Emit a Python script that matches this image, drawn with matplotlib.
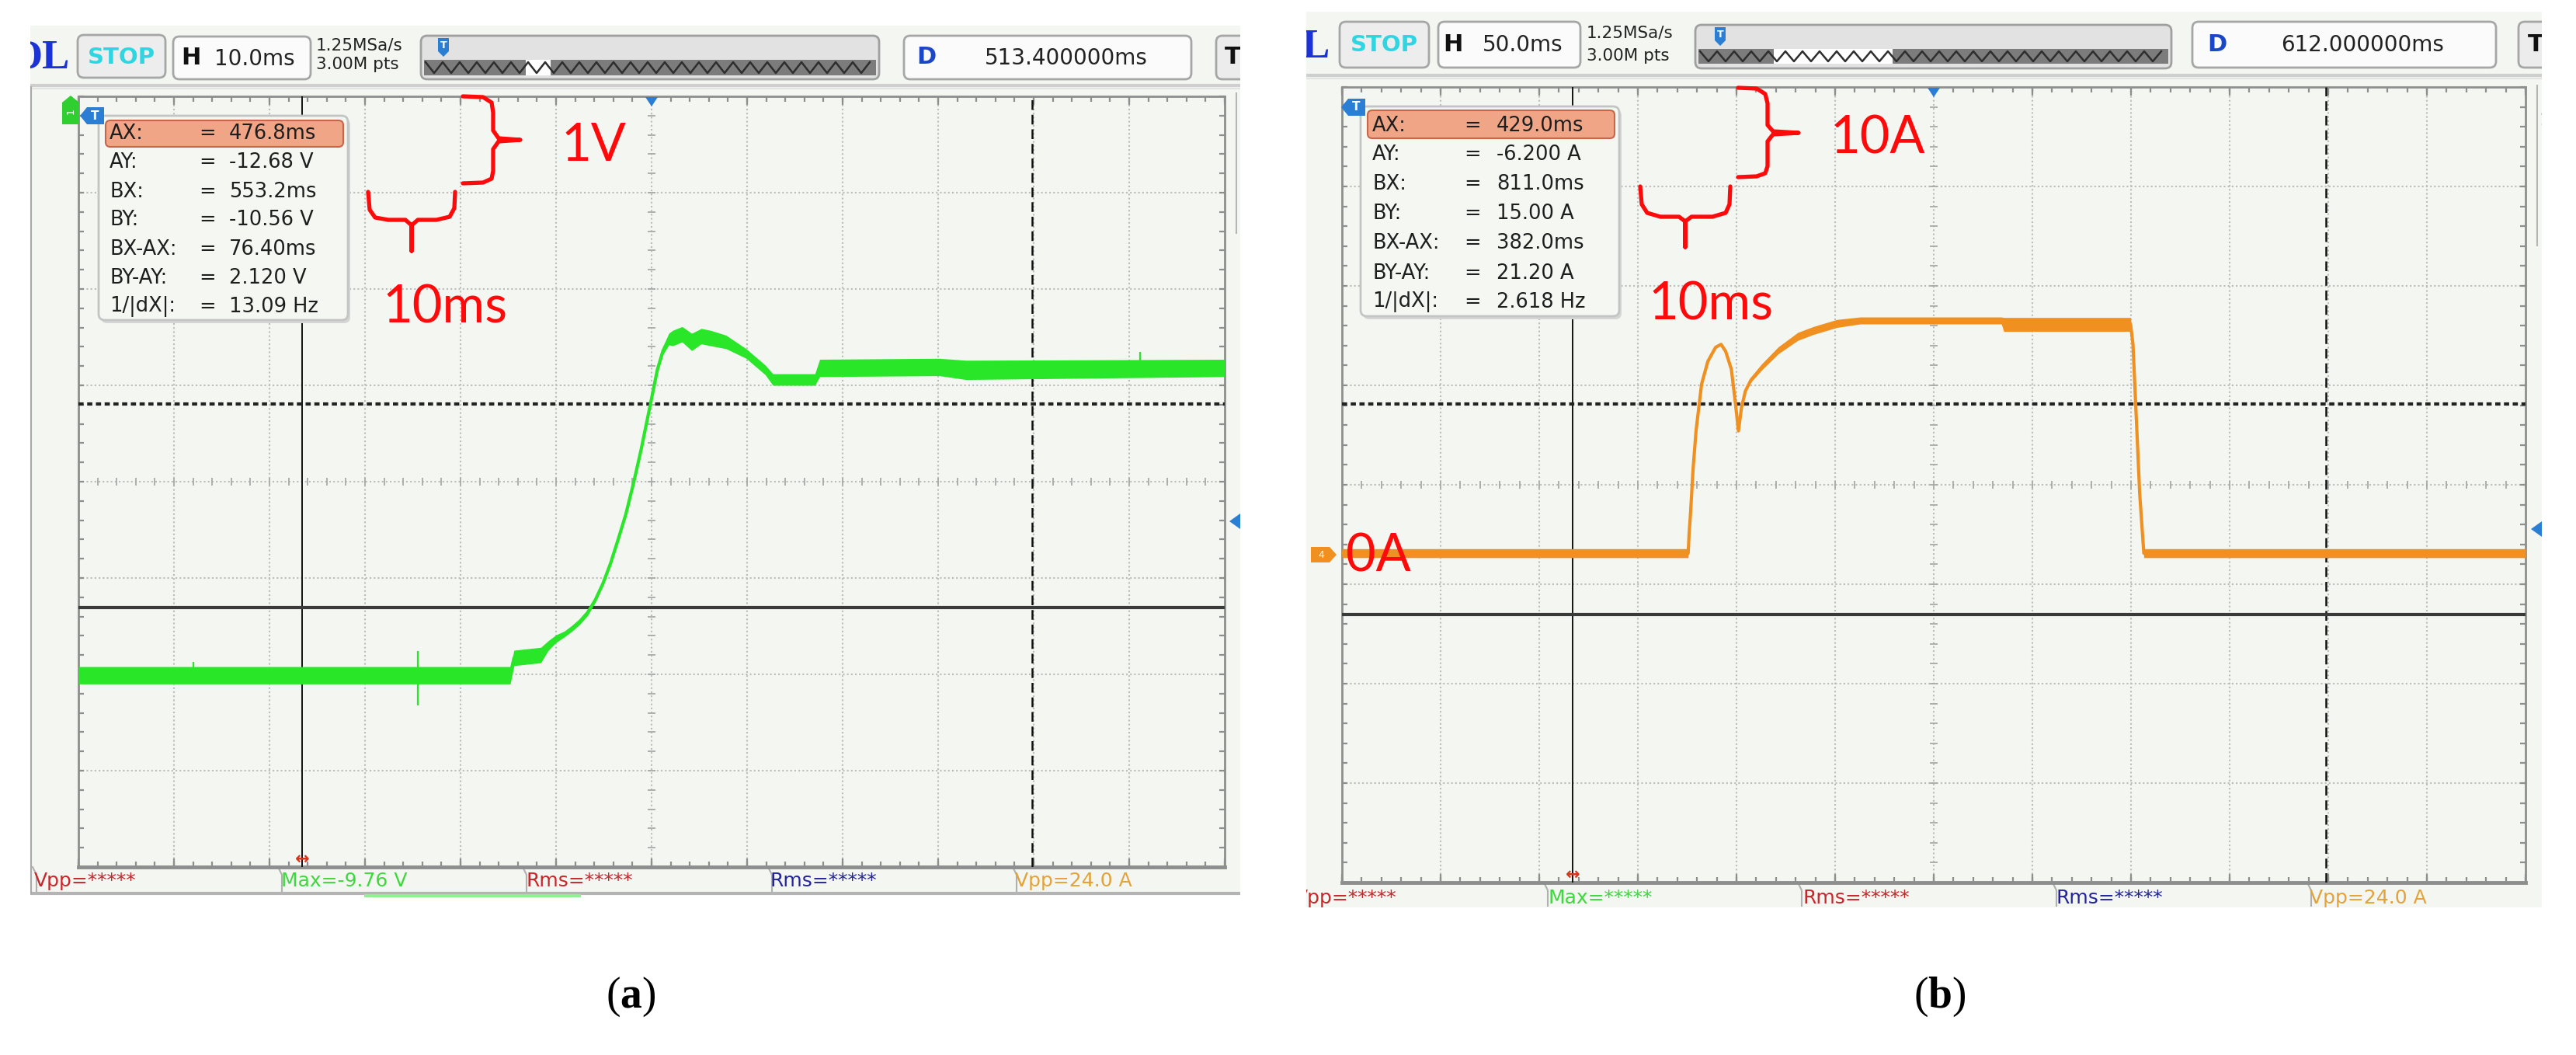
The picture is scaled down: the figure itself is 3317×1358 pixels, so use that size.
import numpy as np
import matplotlib.pyplot as plt
from matplotlib.patches import FancyBboxPatch, Rectangle, Polygon

plt.rcParams['font.family'] = 'DejaVu Sans'
plt.rcParams['mathtext.fontset'] = 'custom'
plt.rcParams['mathtext.rm'] = 'Liberation Serif'
plt.rcParams['mathtext.bf'] = 'Liberation Serif:bold'

# ---------------- values ----------------
# (a) CH1 voltage: time in ms, volts, half width of the noise band
t_a = [453.4, 498.6, 499.0, 501.8, 502.6, 503.4, 504.3, 505.1, 505.9, 506.7,
       507.5, 508.3, 509.1, 509.9, 510.7, 511.5, 512.3, 513.0, 513.6, 514.0,
       514.6, 515.2, 515.6, 516.6, 517.6, 518.6, 519.6, 521.2, 523.3, 525.3,
       526.1, 530.5, 531.0, 543.5, 546.3, 573.4]
v_a = [-13.38, -13.38, -13.20, -13.17, -13.07, -13.00, -12.95, -12.89, -12.82, -12.73,
       -12.60, -12.43, -12.22, -11.97, -11.71, -11.39, -11.04, -10.70, -10.41, -10.21,
       -10.01, -9.89, -9.88, -9.84, -9.92, -9.86, -9.88, -9.92, -10.04, -10.21,
       -10.31, -10.31, -10.19, -10.18, -10.21, -10.19]
w_a = [0.09, 0.09, 0.08, 0.08, 0.05, 0.04, 0.03, 0.03, 0.03, 0.03,
       0.02, 0.02, 0.02, 0.02, 0.02, 0.02, 0.02, 0.02, 0.02, 0.03,
       0.04, 0.06, 0.08, 0.08, 0.09, 0.08, 0.08, 0.07, 0.05, 0.05,
       0.06, 0.06, 0.09, 0.09, 0.10, 0.09]
spike_t_a = [465.4, 488.9, 564.5]
spike_lo_a = [-13.42, -13.69, -10.22]
spike_hi_a = [-13.24, -13.13, -10.02]

# (b) CH4 current: time in ms, amps, half width of the noise band
t_b = [312.0, 487.5, 488.0, 488.7, 490.0, 491.5, 494.3, 497.5, 501.4, 504.2,
       506.5, 509.4, 511.5, 513.0, 514.5, 516.5, 519.3, 525.2, 533.2, 543.1,
       551.1, 562.9, 574.8, 646.3, 647.5, 711.8, 713.0, 714.6, 716.4, 718.5, 912.0]
i_b = [0.0, 0.0, 2.0, 4.0, 8.5, 12.3, 17.0, 19.3, 20.7, 21.0,
       20.3, 18.5, 15.0, 12.3, 14.6, 16.3, 17.4, 18.8, 20.4, 21.8,
       22.4, 23.1, 23.4, 23.4, 23.0, 23.0, 21.0, 14.0, 6.0, 0.0, 0.0]
w_b = [0.45, 0.45, 0.05, 0.05, 0.05, 0.05, 0.05, 0.05, 0.05, 0.05,
       0.05, 0.05, 0.05, 0.05, 0.05, 0.10, 0.20, 0.30, 0.35, 0.40,
       0.40, 0.40, 0.35, 0.35, 0.70, 0.70, 0.10, 0.05, 0.05, 0.45, 0.45]

# screen settings: centre time (D), time/div, centre level, level/div
h_label = ['10.0ms', '50.0ms']
d_label = ['513.400000ms', '612.000000ms']
centre_t = [513.4, 612.0]
time_div = [10.0, 50.0]
centre_y = [-11.37, 6.88]
level_div = [1.0, 10.0]

# cursors: AX, AY, BX, BY
cursor_a = [476.8, -12.68, 553.2, -10.56]
cursor_b = [429.0, -6.2, 811.0, 15.0]

readout_labels = ['AX:', 'AY:', 'BX:', 'BY:', 'BX-AX:', 'BY-AY:', '1/|dX|:']
readout_a = ['476.8ms', '-12.68 V', '553.2ms', '-10.56 V', '76.40ms', '2.120 V', '13.09 Hz']
readout_b = ['429.0ms', '-6.200 A', '811.0ms', '15.00 A', '382.0ms', '21.20 A', '2.618 Hz']

meas_a = ['Vpp=*****', 'Max=-9.76 V', 'Rms=*****', 'Rms=*****', 'Vpp=24.0 A']
meas_b = ['Vpp=*****', 'Max=*****', 'Rms=*****', 'Rms=*****', 'Vpp=24.0 A']
meas_colors = ['#c9262b', '#3ed83e', '#c9262b', '#24249c', '#e3a23a']

# ---------------- layout (pixels of the 3317x1358 picture) ----------------
W, H = 3317, 1358
SCREEN = '#f3f6f1'
FRAME = '#8e8e8e'
GRID = '#bcbcbc'

PA = dict(panel=(39, 33, 1597, 1152), logo=(90, 74),
          stop=(100, 45, 213, 100), hbox=(223, 47, 400, 102), h_x=233, h_val=328,
          rate=(407, 58, 83), slider=(542, 46, 1132, 102), band=(77, 97),
          slider_t=571, white=(677, 709),
          dbox=(1164, 46, 1534, 102), d_x=1180, d_val=1373,
          tbox=(1566, 46, 1630, 102), t_x=1577, sep=110,
          grid=(101, 124, 1577, 1116),
          bar=(1116, 1150), bar_sep=[42, 358, 673, 989, 1304],
          meas_x=[44, 362, 677, 992, 1307], meas_y=1134, bar_line=True,
          box=(127, 149, 448, 412), hl=(136, 155, 442, 189), cols=(141, 267, 295),
          rows=[172, 209, 247, 283, 321, 358, 395],
          scroll=(1592, 120, 300), trig_y=671)
PB = dict(panel=(1682, 15, 3273, 1168), logo=(1713, 60),
          stop=(1725, 28, 1840, 87), hbox=(1852, 28, 2035, 87), h_x=1858, h_val=1961,
          rate=(2043, 43, 72), slider=(2183, 32, 2796, 88), band=(63, 82),
          slider_t=2215, white=(2284, 2437),
          dbox=(2823, 28, 3214, 87), d_x=2842, d_val=3042,
          tbox=(3243, 28, 3300, 87), t_x=3255, sep=97,
          grid=(1728, 112, 3252, 1136),
          bar=(1136, 1168), bar_sep=[1988, 2315, 2643, 2971],
          meas_x=[1667, 1994, 2321, 2648, 2974], meas_y=1156, bar_line=False,
          box=(1752, 137, 2085, 407), hl=(1761, 142, 2079, 178), cols=(1767, 1896, 1927),
          rows=[162, 199, 237, 275, 313, 352, 389],
          scroll=(3267, 110, 316), trig_y=681)

fig = plt.figure(figsize=(W / 100, H / 100), dpi=100)
fig.patch.set_facecolor('white')
bg = fig.add_axes([0, 0, 1, 1], zorder=0)
fg = fig.add_axes([0, 0, 1, 1], zorder=2)
for a in (bg, fg):
    a.set_xlim(0, W)
    a.set_ylim(H, 0)
    a.axis('off')


def px_rect(x0, y0, x1, y1):
    return [x0 / W, 1 - y1 / H, (x1 - x0) / W, (y1 - y0) / H]


def rbox(ax, box, fc, ec, lw=1.5, r=6, z=2):
    x0, y0, x1, y1 = box
    ax.add_patch(FancyBboxPatch((x0, y0), x1 - x0, y1 - y0,
                                boxstyle=f'round,pad=0,rounding_size={r}',
                                fc=fc, ec=ec, lw=lw, zorder=z))


def zigzag(ax, x0, x1, ya, yb, step, color, z):
    xs = np.arange(x0, x1, step / 2)
    ys = np.where(np.arange(len(xs)) % 2 == 0, ya, yb)
    ax.plot(xs, ys, color=color, lw=1.8, zorder=z)


def scope(k, g, t, y, w, color, cur, readout, meas):
    x0, y0, x1, y1 = g['panel']
    bg.add_patch(Rectangle((x0, y0), x1 - x0, y1 - y0, fc=SCREEN, ec='none', zorder=1))

    # ---- top status bar
    bg.text(*g['logo'], 'OL', ha='right', va='center', fontsize=38, fontweight='bold',
            family='Liberation Serif', color='#1b33d6', zorder=3)
    rbox(bg, g['stop'], '#ededed', '#a6a6a6', lw=2, r=8)
    s = g['stop']
    bg.text((s[0] + s[2]) / 2, (s[1] + s[3]) / 2 + 1, 'STOP', ha='center', va='center',
            fontsize=21, fontweight='bold', color='#2fd6e2', zorder=3)
    hb = g['hbox']
    rbox(bg, hb, '#fbfbfb', '#a6a6a6', lw=2, r=8)
    bg.text(g['h_x'], (hb[1] + hb[3]) / 2, 'H', ha='left', va='center', fontsize=22,
            fontweight='bold', color='#111', zorder=3)
    bg.text(g['h_val'], (hb[1] + hb[3]) / 2 + 1, h_label[k], ha='center', va='center',
            fontsize=20, color='#222', zorder=3)
    rx, ry1, ry2 = g['rate']
    bg.text(rx, ry1, '1.25MSa/s', ha='left', va='center', fontsize=15.5, color='#222', zorder=3)
    bg.text(rx, ry2, '3.00M pts', ha='left', va='center', fontsize=15.5, color='#222', zorder=3)
    sl = g['slider']
    rbox(bg, sl, '#e2e2e2', '#a0a0a0', lw=2, r=8)
    ba, bb = g['band']
    bg.add_patch(Rectangle((sl[0] + 4, ba), sl[2] - sl[0] - 8, bb - ba, fc='#7c7c7c', ec='none', zorder=3))
    wa, wb = g['white']
    bg.add_patch(Rectangle((wa, ba), wb - wa, bb - ba, fc='white', ec='none', zorder=3))
    zigzag(bg, sl[0] + 6, sl[2] - 6, ba + 3, bb - 3, 22, '#2e2e2e', 4)
    st = g['slider_t']
    bg.add_patch(Polygon([(st - 7, sl[1] + 3), (st + 7, sl[1] + 3), (st + 7, sl[1] + 20),
                          (st, sl[1] + 27), (st - 7, sl[1] + 20)], closed=True,
                         fc='#2a7fd4', ec='none', zorder=5))
    bg.text(st, sl[1] + 12, 'T', ha='center', va='center', fontsize=9, fontweight='bold',
            color='white', zorder=6)
    db = g['dbox']
    rbox(bg, db, '#fbfbfb', '#a6a6a6', lw=2, r=8)
    bg.text(g['d_x'], (db[1] + db[3]) / 2, 'D', ha='left', va='center', fontsize=22,
            fontweight='bold', color='#1a47c8', zorder=3)
    bg.text(g['d_val'], (db[1] + db[3]) / 2 + 1, d_label[k], ha='center', va='center',
            fontsize=20, color='#222', zorder=3)
    tb = g['tbox']
    rbox(bg, tb, '#ececec', '#a6a6a6', lw=2, r=8)
    bg.text(g['t_x'], (tb[1] + tb[3]) / 2, 'T', ha='left', va='center', fontsize=22,
            fontweight='bold', color='#111', zorder=3)
    bg.plot([x0, x1], [g['sep'], g['sep']], color='#cfcfcf', lw=3, zorder=3)
    bg.plot([x0, x1], [g['sep'] + 4, g['sep'] + 4], color='#e3e3e3', lw=1.5, zorder=3)

    # small scroll strip at the right edge
    sx, sy0, sy1 = g['scroll']
    bg.plot([sx, sx], [sy0, sy1], color='#b5b5b5', lw=1.5, zorder=3)
    bg.text(sx + 3, sy0 + 45, '1', ha='left', va='center', fontsize=16, color='#999', zorder=3)

    # ---- bottom measurement bar
    b0, b1 = g['bar']
    for xs in g['bar_sep']:
        bg.plot([xs, xs + 5, xs + 5], [b0, b0 + 10, b1 - 2], color='#b0b0b0', lw=1.5, zorder=3)
    if g['bar_line']:
        bg.plot([x0, x1], [b1, b1], color='#b4b4b4', lw=3, zorder=3)
    for xm, txt, c in zip(g['meas_x'], meas, meas_colors):
        bg.text(xm, g['meas_y'], txt, ha='left', va='center', fontsize=18, color=c, zorder=3)

    # ---- graticule and traces
    gx0, gy0, gx1, gy1 = g['grid']
    xlim = (centre_t[k] - 6 * time_div[k], centre_t[k] + 6 * time_div[k])
    ylim = (centre_y[k] - 4 * level_div[k], centre_y[k] + 4 * level_div[k])
    ax = fig.add_axes(px_rect(gx0, gy0, gx1, gy1), zorder=1)
    ax.set_xlim(xlim)
    ax.set_ylim(ylim)
    ax.patch.set_alpha(0)
    ax.set_xticks([])
    ax.set_yticks([])
    for sp in ax.spines.values():
        sp.set_color(FRAME)
        sp.set_linewidth(2)
    ax.spines['bottom'].set_linewidth(3.5)
    xd = np.linspace(*xlim, 13)
    yd = np.linspace(*ylim, 9)
    for xv in xd[1:-1]:
        ax.axvline(xv, color=GRID, lw=1.5, ls=(0, (1, 1.5)), zorder=1)
    for yv in yd[1:-1]:
        ax.axhline(yv, color=GRID, lw=1.5, ls=(0, (1, 1.5)), zorder=1)
    xm = np.linspace(*xlim, 61)
    ym = np.linspace(*ylim, 41)
    xc, yc = sum(xlim) / 2, sum(ylim) / 2
    ax.plot(xm, np.full_like(xm, yc), ls='none', marker='|', ms=7, mew=1.3, color='#a9a9a9', zorder=1)
    ax.plot(np.full_like(ym, xc), ym, ls='none', marker='_', ms=7, mew=1.3, color='#a9a9a9', zorder=1)
    tk = dict(ls='none', mew=1.6, color=FRAME, clip_on=False, zorder=2)
    ax.plot(xm, np.full_like(xm, ylim[1]), marker=3, ms=5, **tk)
    ax.plot(xm, np.full_like(xm, ylim[0]), marker=2, ms=5, **tk)
    ax.plot(np.full_like(ym, xlim[0]), ym, marker=1, ms=5, **tk)
    ax.plot(np.full_like(ym, xlim[1]), ym, marker=0, ms=5, **tk)
    ax.plot(xd, np.full_like(xd, ylim[1]), marker=3, ms=8, **tk)
    ax.plot(xd, np.full_like(xd, ylim[0]), marker=2, ms=8, **tk)

    # cursors
    ax.axvline(cur[0], color='#111', lw=1.4, zorder=4)
    ax.axvline(cur[2], color='#111', lw=1.8, ls=(0, (5, 2.5)), zorder=4)
    ax.axhline(cur[1], color='#3a3a3a', lw=3, zorder=4)
    ax.axhline(cur[3], color='#222', lw=3, ls=(0, (1.6, 1.1)), zorder=4)
    ax.text(cur[0], ylim[0], '\u2194', ha='center', va='bottom', fontsize=16,
            color='#d0391a', fontweight='bold', clip_on=False, zorder=5)

    t, y, w = np.array(t), np.array(y), np.array(w)
    ax.fill_between(t, y - w, y + w, color=color, lw=0, zorder=5)
    ax.plot(t, y, color=color, lw=3, zorder=5)

    # trigger markers and readout box (pixel space, above traces)
    cxp = (gx0 + gx1) / 2
    fg.add_patch(Polygon([(cxp - 8, gy0 + 1), (cxp + 8, gy0 + 1), (cxp, gy0 + 13)], closed=True,
                         fc='#2a7fd4', ec='none', zorder=3))
    fg.add_patch(Polygon([(x1, g['trig_y'] - 10), (x1, g['trig_y'] + 10), (x1 - 14, g['trig_y'])],
                         closed=True, fc='#2a7fd4', ec='none', zorder=3))
    bx = g['box']
    rbox(fg, (bx[0] + 3, bx[1] + 4, bx[2] + 3, bx[3] + 4), '#d5d5d5', 'none', lw=0, r=8, z=2)
    rbox(fg, bx, '#f5f7f3', '#c4c4c4', lw=2, r=8, z=3)
    rbox(fg, g['hl'], '#f0a587', '#c9664a', lw=1.5, r=6, z=4)
    lx, ex, vx = g['cols']
    for ry, lab, val in zip(g['rows'], readout_labels, readout):
        fg.text(lx, ry, lab, ha='left', va='center', fontsize=18.5, color='#1e1e1e', zorder=5)
        fg.text(ex, ry, '=', ha='center', va='center', fontsize=18.5, color='#1e1e1e', zorder=5)
        fg.text(vx, ry, val, ha='left', va='center', fontsize=18.5, color='#1e1e1e', zorder=5)
    return ax


ax_a = scope(0, PA, t_a, v_a, w_a, '#29e629', cursor_a, readout_a, meas_a)
ax_a.vlines(spike_t_a, spike_lo_a, spike_hi_a, color='#29e629', lw=1.6, zorder=5)
ax_b = scope(1, PB, t_b, i_b, w_b, '#f09020', cursor_b, readout_b, meas_b)

# white margins between/around the two screenshots
for mx0, mx1 in [(0, PA['panel'][0]), (PA['panel'][2], PB['panel'][0]), (PB['panel'][2], W)]:
    bg.add_patch(Rectangle((mx0, 0), mx1 - mx0, H, fc='white', ec='none', zorder=20))
bg.plot([40, 40], [112, 1150], color='#a9a9a9', lw=1.5, zorder=21)

# green underline under the Max reading
bg.plot([471, 746], [1153, 1153], color='#8ff08f', lw=3, zorder=21)

# channel markers
fg.add_patch(Polygon([(80, 160), (80, 132), (91, 123), (102, 132), (102, 160)], closed=True,
                     fc='#2fcf2f', ec='none', zorder=3))
fg.text(91, 143, '1', ha='center', va='center', fontsize=9, color='white', rotation=90, zorder=4)
for tx, ty in [(103, 149), (1727, 138)]:
    fg.add_patch(Polygon([(tx, ty), (tx + 9, ty - 11), (tx + 31, ty - 11), (tx + 31, ty + 11),
                          (tx + 9, ty + 11)], closed=True, fc='#2a7fd4', ec='none', zorder=3))
    fg.text(tx + 19, ty, 'T', ha='center', va='center', fontsize=11, fontweight='bold',
            color='white', zorder=4)
fg.add_patch(Polygon([(1688, 704), (1712, 704), (1721, 714), (1712, 724), (1688, 724)], closed=True,
                     fc='#f09020', ec='none', zorder=3))
fg.text(1701, 714, '4', ha='center', va='center', fontsize=9, color='white', zorder=4)

# hand-drawn red scale annotations
RED = '#ff0a0a'
br = dict(color=RED, lw=3.8, solid_capstyle='round', solid_joinstyle='round', zorder=6)
fg.plot([596, 622, 633, 635, 635, 642, 670, 642, 635, 635, 633, 622, 596],
        [124, 125, 132, 145, 168, 178, 180, 182, 192, 220, 230, 235, 236], **br)
fg.plot([474, 476, 483, 500, 522, 530, 530, 530, 538, 562, 579, 585, 586],
        [247, 270, 280, 283, 283, 290, 323, 290, 283, 283, 279, 268, 247], **br)
fg.plot([2238, 2262, 2273, 2276, 2276, 2283, 2316, 2283, 2276, 2276, 2273, 2262, 2238],
        [113, 114, 121, 133, 161, 169, 171, 173, 182, 214, 223, 227, 228], **br)
fg.plot([2112, 2114, 2121, 2138, 2162, 2170, 2170, 2170, 2178, 2205, 2222, 2227, 2228],
        [240, 263, 274, 279, 279, 285, 318, 285, 279, 279, 274, 263, 240], **br)
ann = dict(color=RED, fontsize=48, family='Lato', ha='left', va='baseline', zorder=6)
fg.text(722, 207, '1V', **ann)
fg.text(492, 415, '10ms', **ann)
fg.text(2356, 197, '10A', **ann)
fg.text(2122, 412, '10ms', **ann)
fg.text(1733, 735, '0A', **ann)

# sub-figure labels
fg.text(812, 1283, r'($\mathbf{a}$)', ha='center', va='center', fontsize=40,
        family='Liberation Serif', color='black')
fg.text(2498, 1283, r'($\mathbf{b}$)', ha='center', va='center', fontsize=40,
        family='Liberation Serif', color='black')

fig.savefig('out.png', dpi=100, facecolor='white')
